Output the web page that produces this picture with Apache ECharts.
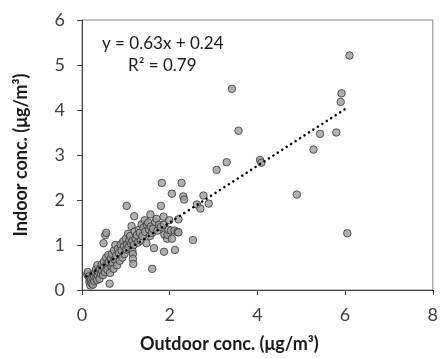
<!DOCTYPE html>
<html>
<head>
<meta charset="utf-8">
<script src="https://cdn.jsdelivr.net/npm/echarts@6/dist/echarts.min.js"></script>
<style>
  html, body { margin: 0; padding: 0; background: #fff; }
  #chart { width: 441px; height: 358px; }
</style>
</head>
<body>
<div id="chart"></div>
<script>
// outdoor vs indoor concentration pairs (µg/m³)
const clusterPoints = [
  [0.12, 0.35], [0.13, 0.40], [0.15, 0.30], [0.17, 0.18], [0.18, 0.25], [0.19, 0.10],
  [0.20, 0.22], [0.22, 0.15], [0.24, 0.27], [0.25, 0.12], [0.26, 0.35], [0.28, 0.20],
  [0.28, 0.30], [0.30, 0.38], [0.32, 0.46], [0.33, 0.28], [0.34, 0.22], [0.35, 0.55],
  [0.36, 0.33], [0.38, 0.40], [0.40, 0.25], [0.41, 0.47], [0.43, 0.36], [0.45, 0.57],
  [0.46, 0.42], [0.48, 0.33], [0.49, 1.04], [0.50, 0.63], [0.50, 0.50], [0.52, 0.40],
  [0.53, 1.22], [0.55, 1.27], [0.55, 0.72], [0.56, 0.55], [0.58, 0.45], [0.60, 0.78],
  [0.61, 0.62], [0.63, 0.14], [0.64, 0.38], [0.66, 0.70], [0.67, 0.53], [0.68, 0.80],
  [0.70, 0.60], [0.72, 0.47], [0.73, 0.88], [0.75, 0.68], [0.76, 1.00], [0.78, 0.77],
  [0.80, 0.55], [0.82, 0.92], [0.84, 0.82], [0.86, 0.65], [0.88, 1.01], [0.90, 0.88],
  [0.92, 0.72], [0.94, 1.08], [0.96, 0.97], [0.97, 0.80], [1.00, 1.14], [1.01, 0.90],
  [1.02, 1.87], [1.03, 1.02], [1.05, 1.25], [1.06, 0.95], [1.08, 1.10], [1.10, 1.20],
  [1.12, 1.03], [1.13, 1.42], [1.15, 1.09], [1.15, 0.87], [1.16, 0.80], [1.16, 0.69],
  [1.17, 0.58], [1.18, 1.00], [1.19, 1.64], [1.20, 1.30], [1.22, 1.15], [1.25, 1.22],
  [1.27, 1.05], [1.30, 1.34], [1.32, 1.27], [1.34, 1.10], [1.36, 1.46], [1.38, 1.20],
  [1.40, 1.38], [1.43, 1.55], [1.44, 1.29], [1.47, 1.04], [1.48, 1.45], [1.51, 1.50],
  [1.53, 1.34], [1.55, 1.20], [1.56, 1.68], [1.57, 1.41], [1.60, 1.27], [1.60, 0.47],
  [1.62, 1.36], [1.64, 0.93], [1.67, 1.51], [1.70, 1.58], [1.72, 1.32], [1.76, 1.45],
  [1.80, 1.87], [1.80, 1.40], [1.86, 1.63], [1.87, 1.45], [1.87, 0.85], [1.88, 1.23],
  [1.94, 1.14], [1.95, 1.23], [1.97, 1.34], [1.99, 1.55], [2.03, 1.32], [2.05, 1.14],
  [2.11, 1.32], [2.12, 0.89], [2.18, 1.29], [2.20, 1.57], [2.20, 1.28]
];
const upperPoints = [
  [1.82, 2.38], [2.05, 2.14], [2.27, 2.38], [2.31, 2.08], [2.33, 2.01], [2.53, 1.11],
  [2.62, 1.90], [2.70, 1.81], [2.77, 2.10], [2.89, 1.92], [3.07, 2.67], [3.30, 2.84],
  [3.42, 4.47], [3.57, 3.54], [4.06, 2.89], [4.09, 2.83], [4.90, 2.12], [5.28, 3.12],
  [5.43, 3.47], [5.80, 3.50], [5.90, 4.18], [5.92, 4.37], [6.05, 1.26], [6.10, 5.21]
];
// fitted line printed on the chart
const slope = 0.63;
const intercept = 0.24;
const trendRange = [0.1, 6.06];
const xTicks = [0, 2, 4, 6, 8];
const yTicks = [0, 1, 2, 3, 4, 5, 6];

const points = clusterPoints.concat(upperPoints);
const trendLine = trendRange.map((x) => [x, slope * x + intercept]);

const chart = echarts.init(document.getElementById("chart"), null, { renderer: "canvas" });

const labelFont = "Lato, 'Open Sans', sans-serif";

chart.setOption({
  animation: false,
  backgroundColor: "#fff",
  grid: {
    left: 82,
    right: 2,
    top: 20,
    bottom: 61,
    show: true,
    borderColor: "#8c8c8c",
    borderWidth: 1,
    containLabel: false,
  },
  xAxis: {
    type: "value",
    min: xTicks[0],
    max: xTicks[xTicks.length - 1],
    interval: 2,
    name: "Outdoor conc. (μg/m³)",
    nameLocation: "middle",
    nameGap: 45,
    nameTextStyle: {
      color: "#1a1a1a", fontFamily: labelFont, fontSize: 18, fontWeight: "bold",
      padding: [0, 56, 0, 0],
    },
    axisLine: { lineStyle: { color: "#404040", width: 1 } },
    axisTick: { show: true, inside: false, length: 5, lineStyle: { color: "#404040" } },
    axisLabel: { color: "#404040", fontFamily: labelFont, fontSize: 18, margin: 16 },
    splitLine: { show: false },
  },
  yAxis: {
    type: "value",
    min: yTicks[0],
    max: yTicks[yTicks.length - 1],
    interval: 1,
    name: "Indoor conc. (μg/m³)",
    nameLocation: "middle",
    nameGap: 52,
    nameRotate: 90,
    nameTextStyle: { color: "#1a1a1a", fontFamily: labelFont, fontSize: 18, fontWeight: "bold" },
    axisLine: { show: true, lineStyle: { color: "#404040", width: 1 } },
    axisTick: { show: true, inside: false, length: 5, lineStyle: { color: "#404040" } },
    axisLabel: { color: "#404040", fontFamily: labelFont, fontSize: 18, margin: 17 },
    splitLine: { show: false },
  },
  series: [
    {
      type: "scatter",
      data: points,
      symbol: "circle",
      symbolSize: 7.5,
      itemStyle: { color: "#9e9e9e", borderColor: "#333", borderWidth: 1 },
      z: 2,
    },
    {
      type: "line",
      data: trendLine,
      showSymbol: false,
      symbol: "none",
      lineStyle: { color: "#000", width: 2.5, type: [0.1, 5.2], cap: "round" },
      z: 3,
    },
  ],
  graphic: [
    {
      type: "text",
      left: 102,
      top: 35,
      style: { text: "y = 0.63x + 0.24", fill: "#1a1a1a", font: "17px " + labelFont },
    },
    {
      type: "text",
      left: 128,
      top: 57,
      style: { text: "R² = 0.79", fill: "#1a1a1a", font: "17px " + labelFont },
    },
  ],
});
</script>
</body>
</html>
